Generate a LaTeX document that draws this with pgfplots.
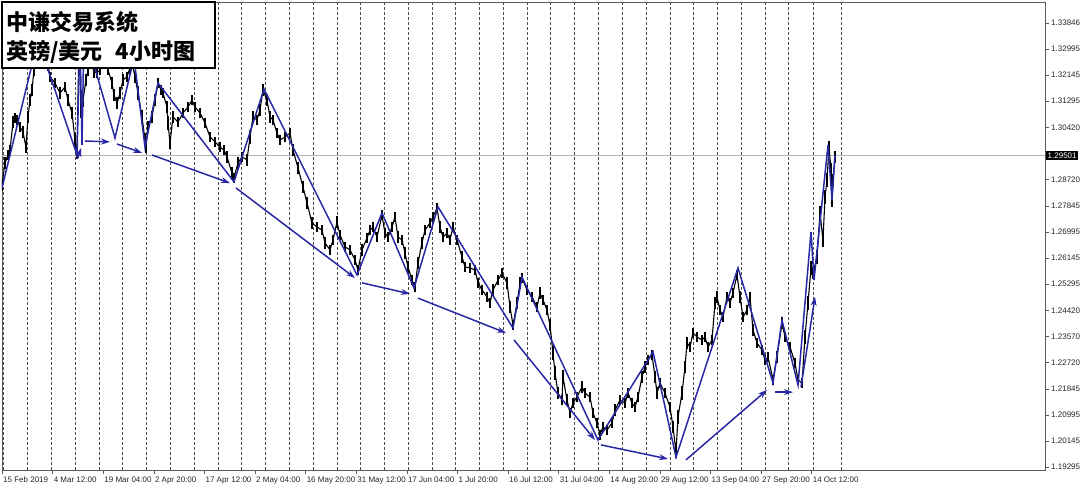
\documentclass[border=0pt]{standalone}
\usepackage{pgfplots}
\pgfplotsset{compat=1.18}
\usepackage{pgfplotstable}
\usetikzlibrary{arrows.meta}
\usepackage{fontspec}
\setmainfont{Liberation Sans}
\newfontfamily\cjk{Noto Sans CJK SC}

\definecolor{zz}{RGB}{40,40,165}
\definecolor{frame}{RGB}{90,90,90}

% x = bar position (chart pixels), c = price, r = half range of the bars there
\pgfplotstableread{
x c r
2 1.2854 0.0019
5 1.2926 0.0019
8 1.2952 0.0016
10 1.2968 0.0016
13 1.3060 0.0019
15 1.3073 0.0016
17 1.3067 0.0016
20 1.3044 0.0016
23 1.3027 0.0019
26 1.2978 0.0019
28 1.3077 0.0019
30 1.3132 0.0019
32 1.3165 0.0019
34 1.3231 0.0019
36 1.3280 0.0019
40 1.3313 0.0019
44 1.3296 0.0019
48 1.3247 0.0019
50 1.3208 0.0016
55 1.3188 0.0016
60 1.3155 0.0019
65 1.3175 0.0016
68 1.3132 0.0019
72 1.3090 0.0019
75 1.3001 0.0023
77 1.2959 0.0019
79 1.3329 0.0028
81 1.3100 0.0028
83 1.3132 0.0023
86 1.3198 0.0019
88 1.3231 0.0019
91 1.3263 0.0019
94 1.3224 0.0019
97 1.3221 0.0016
100 1.3231 0.0016
104 1.3257 0.0016
108 1.3231 0.0016
112 1.3188 0.0019
114 1.3149 0.0019
117 1.3122 0.0019
120 1.3155 0.0019
123 1.3198 0.0019
127 1.3208 0.0016
130 1.3237 0.0019
132 1.3257 0.0019
135 1.3208 0.0019
138 1.3155 0.0023
142 1.3077 0.0023
145 1.3001 0.0023
146 1.2978 0.0019
148 1.3044 0.0019
152 1.3077 0.0019
155 1.3132 0.0019
158 1.3188 0.0016
161 1.3165 0.0016
163 1.3155 0.0016
167 1.3109 0.0019
168 1.3057 0.0023
170 1.2991 0.0019
173 1.3077 0.0019
178 1.3060 0.0016
183 1.3090 0.0016
188 1.3109 0.0016
192 1.3132 0.0016
195 1.3109 0.0016
200 1.3090 0.0016
205 1.3057 0.0016
210 1.3011 0.0016
215 1.2995 0.0016
220 1.2978 0.0016
224 1.2968 0.0016
227 1.2946 0.0019
232 1.2893 0.0019
234 1.2877 0.0016
238 1.2926 0.0019
242 1.2946 0.0016
247 1.2936 0.0019
250 1.3011 0.0023
253 1.3077 0.0019
257 1.3067 0.0016
260 1.3100 0.0019
263 1.3165 0.0019
267 1.3132 0.0019
270 1.3077 0.0019
273 1.3067 0.0016
277 1.3024 0.0016
280 1.3001 0.0016
285 1.3011 0.0016
290 1.3024 0.0016
293 1.2968 0.0019
298 1.2910 0.0019
303 1.2847 0.0019
307 1.2795 0.0019
312 1.2729 0.0019
317 1.2716 0.0016
322 1.2706 0.0016
325 1.2664 0.0019
330 1.2641 0.0016
333 1.2674 0.0016
337 1.2732 0.0019
340 1.2690 0.0016
345 1.2651 0.0016
350 1.2641 0.0016
355 1.2608 0.0016
358 1.2575 0.0016
362 1.2641 0.0019
367 1.2680 0.0016
370 1.2706 0.0016
373 1.2716 0.0016
377 1.2683 0.0016
382 1.2755 0.0016
385 1.2696 0.0016
388 1.2683 0.0016
392 1.2716 0.0016
395 1.2749 0.0016
398 1.2683 0.0019
402 1.2674 0.0016
405 1.2631 0.0019
408 1.2585 0.0019
412 1.2542 0.0016
415 1.2520 0.0016
418 1.2598 0.0019
422 1.2664 0.0019
425 1.2706 0.0016
430 1.2729 0.0016
433 1.2749 0.0016
437 1.2778 0.0016
440 1.2716 0.0019
443 1.2683 0.0016
447 1.2696 0.0016
450 1.2674 0.0016
453 1.2716 0.0016
457 1.2674 0.0016
462 1.2618 0.0019
465 1.2585 0.0016
470 1.2582 0.0016
475 1.2575 0.0016
478 1.2533 0.0016
482 1.2510 0.0016
487 1.2487 0.0016
490 1.2467 0.0016
493 1.2510 0.0019
498 1.2542 0.0016
502 1.2565 0.0016
507 1.2533 0.0019
510 1.2454 0.0019
513 1.2395 0.0016
517 1.2467 0.0019
520 1.2533 0.0019
522 1.2549 0.0016
527 1.2510 0.0016
532 1.2487 0.0016
537 1.2454 0.0016
540 1.2500 0.0019
543 1.2477 0.0016
547 1.2444 0.0016
550 1.2395 0.0019
553 1.2303 0.0023
555 1.2238 0.0023
558 1.2172 0.0019
562 1.2149 0.0016
563 1.2225 0.0023
567 1.2149 0.0019
570 1.2107 0.0016
573 1.2139 0.0016
577 1.2159 0.0016
582 1.2192 0.0019
585 1.2172 0.0016
590 1.2159 0.0016
593 1.2107 0.0016
597 1.2074 0.0016
600 1.2035 0.0016
603 1.2061 0.0016
607 1.2051 0.0016
612 1.2074 0.0016
615 1.2116 0.0019
620 1.2149 0.0016
625 1.2139 0.0016
628 1.2172 0.0016
632 1.2139 0.0016
635 1.2126 0.0016
638 1.2159 0.0016
642 1.2225 0.0019
645 1.2257 0.0019
648 1.2280 0.0016
652 1.2297 0.0016
655 1.2225 0.0019
657 1.2172 0.0019
660 1.2205 0.0016
665 1.2172 0.0016
670 1.2126 0.0016
673 1.2061 0.0019
676 1.1979 0.0019
678 1.2093 0.0023
682 1.2172 0.0023
685 1.2257 0.0019
687 1.2336 0.0019
690 1.2323 0.0016
693 1.2369 0.0016
697 1.2356 0.0016
702 1.2346 0.0016
705 1.2356 0.0016
708 1.2323 0.0016
712 1.2346 0.0016
715 1.2467 0.0019
717 1.2487 0.0019
720 1.2444 0.0016
723 1.2421 0.0016
727 1.2487 0.0016
730 1.2467 0.0016
733 1.2500 0.0016
737 1.2559 0.0016
740 1.2487 0.0019
743 1.2421 0.0016
747 1.2444 0.0016
750 1.2487 0.0016
753 1.2379 0.0019
757 1.2336 0.0016
762 1.2313 0.0016
765 1.2280 0.0016
768 1.2290 0.0016
773 1.2215 0.0016
777 1.2290 0.0019
782 1.2402 0.0019
785 1.2356 0.0016
790 1.2323 0.0016
795 1.2270 0.0016
798 1.2215 0.0016
802 1.2205 0.0016
805 1.2356 0.0023
808 1.2467 0.0023
811 1.2582 0.0023
813 1.2565 0.0019
817 1.2618 0.0023
820 1.2762 0.0023
823 1.2674 0.0023
825 1.2814 0.0023
827 1.2870 0.0023
829 1.2978 0.0019
831 1.2903 0.0023
832 1.2805 0.0023
833 1.2870 0.0019
835 1.2946 0.0019
}\price

% swing line through highs and lows
\pgfplotstableread{
x y
2 1.2844
38 1.3329
77 1.2952
80 1.3345
82 1.2985
84 1.3362
115 1.3008
134 1.3270
145 1.2978
158 1.3188
234 1.2864
264 1.3168
357 1.2559
382 1.2762
414 1.2516
438 1.2782
513 1.2385
522 1.2552
598 1.2018
653 1.2307
676 1.1962
738 1.2582
773 1.2205
782 1.2411
798 1.2198
811 1.2700
814 1.2542
828 1.2985
832 1.2805
835 1.2952
}\swing

\begin{document}
\begin{tikzpicture}
\useasboundingbox (-2pt,-17pt) rectangle (1078pt,470pt);
\begin{axis}[
    at={(0pt,0pt)}, anchor=south west,
    scale only axis,
    width=1043pt, height=468pt,
    xmin=2, xmax=1045,
    ymin=1.19198, ymax=1.34534,
    axis line style={draw=frame, line width=0.8pt},
    tick align=outside,
    major tick length=4pt,
    tick style={draw=frame, line width=0.6pt},
    xtick pos=left, ytick pos=right,
    yticklabel pos=right,
    /pgf/number format/assume math mode=true,
    tick label style={font=\fontsize{8}{9}\selectfont, text=black!85},
    xtick={2,52.6,103.2,153.8,204.4,255,305.6,356.2,406.8,457.4,508,558.6,609.2,659.8,710.4,761,811.6},
    xticklabels={15 Feb 2019,4 Mar 12:00,19 Mar 04:00,2 Apr 20:00,17 Apr 12:00,2 May 04:00,16 May 20:00,31 May 12:00,17 Jun 04:00,1 Jul 20:00,16 Jul 12:00,31 Jul 04:00,14 Aug 20:00,29 Aug 12:00,13 Sep 04:00,27 Sep 20:00,14 Oct 12:00},
    xticklabel style={anchor=north west, inner xsep=1pt, yshift=1pt},
    extra x ticks={3,27,51,75,99,122,146,170,194,218,241,265,289,313,337,360,384,408,432,455,479,503,527,550,574,598,622,646,670,693,717,741,765,788,813,841},
    extra x tick labels={},
    extra x tick style={grid=major, major tick length=0pt},
    grid style={draw=black!70, line width=0.5pt, dash pattern=on 2.5pt off 2.5pt},
    ytick={1.19295,1.20145,1.20995,1.21845,1.22720,1.23570,1.24420,1.25295,1.26145,1.26995,1.27845,1.28720,1.30420,1.31295,1.32145,1.32995,1.33846},
    yticklabels={1.19295,1.20145,1.20995,1.21845,1.22720,1.23570,1.24420,1.25295,1.26145,1.26995,1.27845,1.28720,1.30420,1.31295,1.32145,1.32995,1.33846},
    yticklabel style={anchor=west, inner xsep=2pt},
]
% bid line
\addplot[draw=black!30, line width=0.8pt] coordinates {(2,1.29501) (1045,1.29501)};
% price bars
\addplot[black, line width=1.1pt, line join=bevel,
    error bars/.cd, y dir=both, y explicit,
    error mark=none, error bar style={black, line width=1.2pt}]
    table[x=x, y=c, y error=r] {\price};
% swing line
\addplot[zz, line width=1.5pt, line join=miter] table[x=x, y=y] {\swing};
% trend arrows
\pgfplotsset{arr/.style={zz, line width=1.5pt, -{Stealth[length=9pt, width=6pt]}}}
\addplot[arr] coordinates {(78,1.2942) (81,1.2975)};
\addplot[arr] coordinates {(85,1.2998) (110,1.2995)};
\addplot[arr] coordinates {(117,1.2988) (142,1.2959)};
\addplot[arr] coordinates {(152,1.2952) (230,1.2860)};
\addplot[arr] coordinates {(236,1.2844) (355,1.2549)};
\addplot[arr] coordinates {(362,1.2533) (410,1.2497)};
\addplot[arr] coordinates {(418,1.2483) (506,1.2369)};
\addplot[arr] coordinates {(514,1.2346) (595,1.2018)};
\addplot[arr] coordinates {(601,1.2002) (668,1.1956)};
\addplot[arr] coordinates {(686,1.1953) (767,1.2182)};
\addplot[arr] coordinates {(775,1.2175) (793,1.2175)};
\addplot[arr] coordinates {(801,1.2192) (815,1.2487)};
\coordinate (bid) at (axis cs:1045,1.29501);
\end{axis}
\node[anchor=west, fill=black, text=white, inner xsep=1.5pt, inner ysep=1.5pt,
      font=\fontsize{8}{9}\selectfont, xshift=1pt] at (bid) {1.29501};
% title box
\draw[black, line width=1.5pt, fill=white] (0pt,402pt) rectangle (213pt,468pt);
\node[anchor=west, font=\cjk\bfseries\fontsize{22}{24}\selectfont, inner sep=0pt] at (4pt,448pt) {中谦交易系统};
\node[anchor=west, font=\cjk\bfseries\fontsize{22}{24}\selectfont, inner sep=0pt] at (4pt,418pt) {英镑/美元\hspace{0.6em}4小时图};
\end{tikzpicture}
\end{document}
